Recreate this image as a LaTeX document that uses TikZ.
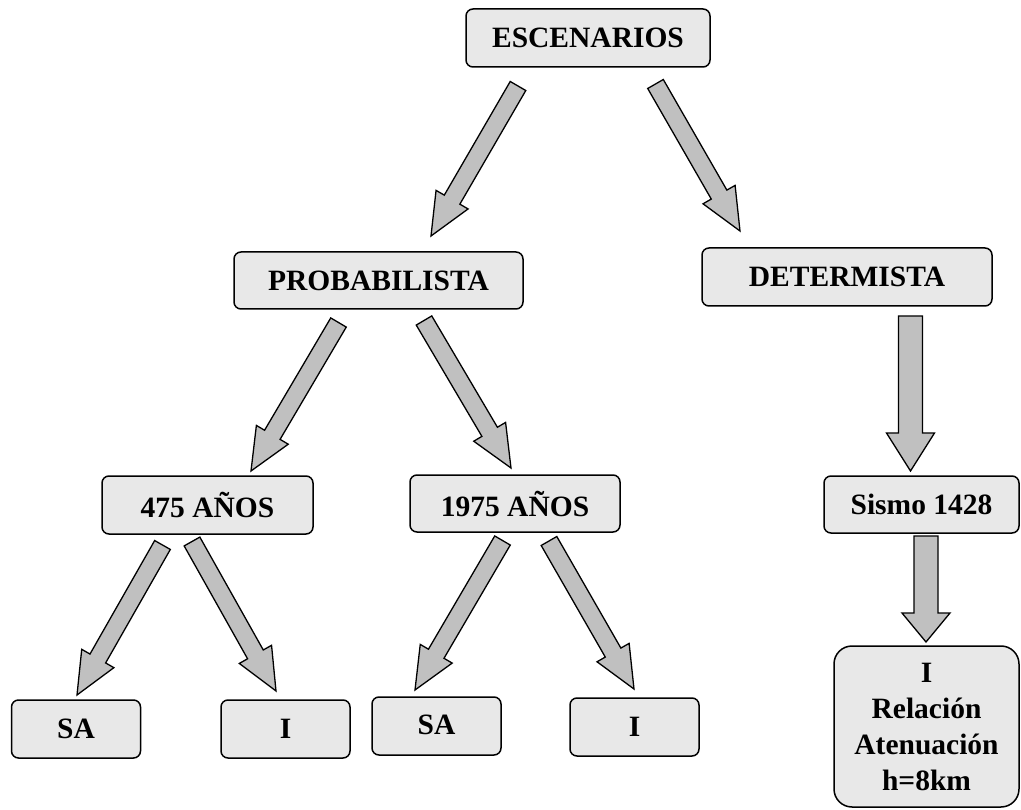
\documentclass[tikz,border=0pt]{standalone}
\usepackage{fontspec}
\setmainfont{Liberation Serif}
\usetikzlibrary{calc}
\definecolor{boxfill}{HTML}{E8E8E8}
\definecolor{arrfill}{HTML}{C0C0C0}
\newcommand\blockarrow[5]{%
  \path let \p1=(#1),\p2=(#2),\n1={atan2(\y2-\y1,\x2-\x1)},\n2={veclen(\x2-\x1,\y2-\y1)} in
    \pgfextra{\xdef\bax{\x1}\xdef\bay{\y1}\xdef\baang{\n1}\xdef\balen{\n2}};
  \draw[arrowshape,shift={(\bax,\bay)},rotate=\baang]
    (0pt,-#3) -- ({\balen-#5},-#3) -- ({\balen-#5},-#4) -- (\balen,0pt)
    -- ({\balen-#5},#4) -- ({\balen-#5},#3) -- (0pt,#3) -- cycle;
}
\begin{document}
\begin{tikzpicture}[x=1pt,y=-1pt,
  box/.style={draw=black,line width=1.5pt,fill=boxfill,rounded corners=7pt,
    font=\fontsize{29.5}{35}\selectfont\bfseries,inner sep=0pt},
  arrowshape/.style={draw=black,line width=1.3pt,fill=arrfill,line join=miter}]
\useasboundingbox (0,0) rectangle (1021,810);
% boxes
\node[box,minimum width=244pt,minimum height=58pt] (esc) at (588,38) {ESCENARIOS};
\node[box,minimum width=289pt,minimum height=57pt] (prob) at (378.5,280.5) {PROBABILISTA};
\node[box,minimum width=290pt,minimum height=58pt] (det) at (847,277) {DETERMISTA};
\node[box,minimum width=211pt,minimum height=58pt] (a475) at (207.5,505) {475 AÑOS};
\node[box,minimum width=210pt,minimum height=57pt] (a1975) at (515,503.5) {1975 AÑOS};
\node[box,minimum width=195pt,minimum height=57pt] (sismo) at (921.5,504.5) {Sismo 1428};
\node[box,minimum width=129pt,minimum height=58pt] (sa1) at (76,729) {SA};
\node[box,minimum width=129pt,minimum height=58pt] (i1) at (285.5,729) {I};
\node[box,minimum width=129pt,minimum height=58pt] (sa2) at (436.5,726) {\raisebox{3pt}{SA}};
\node[box,minimum width=129pt,minimum height=58pt] (i2) at (634.5,727) {I};
\node[box,rounded corners=18pt,minimum width=185pt,minimum height=161pt,align=center,
  font=\fontsize{29.5}{36}\selectfont\bfseries] (rel) at (926.5,726.5)
  {I\\Relación\\Atenuación\\h=8km};
% arrow end points
\coordinate (t1) at (518,86);    \coordinate (h1) at (431,236);
\coordinate (t2) at (655.5,84);  \coordinate (h2) at (740,231);
\coordinate (t3) at (338.5,322.5); \coordinate (h3) at (251,471);
\coordinate (t4) at (424,320.5); \coordinate (h4) at (511,468);
\coordinate (t5) at (910.5,316); \coordinate (h5) at (910.5,471);
\coordinate (t6) at (926,536);   \coordinate (h6) at (926,642);
\coordinate (t7) at (162.5,545); \coordinate (h7) at (77,695);
\coordinate (t8) at (192,541.5); \coordinate (h8) at (276,691);
\coordinate (t9) at (502.5,540.5); \coordinate (h9) at (415,690);
\coordinate (t10) at (549,541);  \coordinate (h10) at (634,689);
% arrows
\blockarrow{t1}{h1}{9pt}{18.5pt}{42pt}
\blockarrow{t2}{h2}{9pt}{18.5pt}{42pt}
\blockarrow{t3}{h3}{9pt}{18.5pt}{42pt}
\blockarrow{t4}{h4}{9pt}{18.5pt}{42pt}
\blockarrow{t5}{h5}{12pt}{24pt}{38pt}
\blockarrow{t6}{h6}{12pt}{24pt}{29pt}
\blockarrow{t7}{h7}{9pt}{18.5pt}{42pt}
\blockarrow{t8}{h8}{9pt}{18.5pt}{42pt}
\blockarrow{t9}{h9}{9pt}{18.5pt}{42pt}
\blockarrow{t10}{h10}{9pt}{18.5pt}{42pt}
\end{tikzpicture}
\end{document}
